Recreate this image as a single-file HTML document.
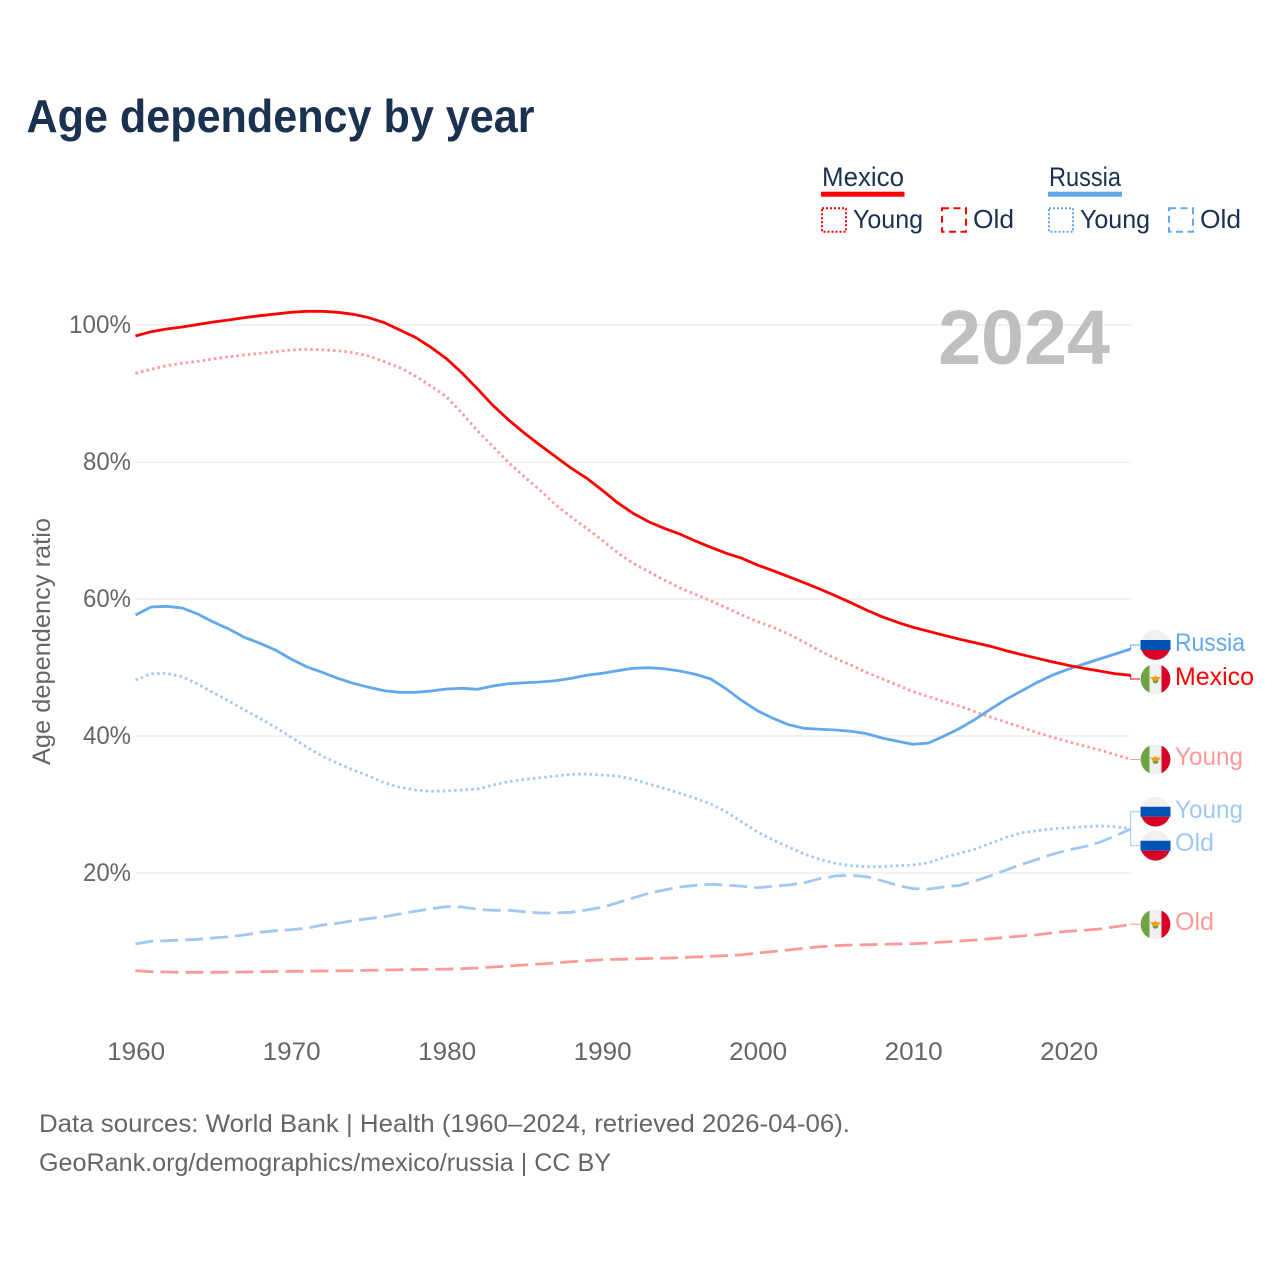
<!DOCTYPE html>
<html lang="en">
<head>
<meta charset="utf-8">
<title>Age dependency by year</title>
<style>
html,body{margin:0;padding:0;background:#fff;}
svg{display:block;font-family:"Liberation Sans",sans-serif;}
</style>
</head>
<body>
<svg id="chart" xmlns="http://www.w3.org/2000/svg" width="1280" height="1280" viewBox="0 0 1280 1280">
  <rect x="0" y="0" width="1280" height="1280" fill="#fff"/>
  <text x="26.5" y="132" font-size="46" font-weight="700" fill="#1a3150" textLength="508" lengthAdjust="spacingAndGlyphs">Age dependency by year</text>

  <g>
    <text x="822" y="186" font-size="27" fill="#1a3150" textLength="82" lengthAdjust="spacingAndGlyphs">Mexico</text>
    <rect x="821" y="191.7" width="83.5" height="5" fill="#ff0000"/>
    <rect x="822" y="208.3" width="24" height="23.5" fill="none" stroke="#ff0000" stroke-width="2" stroke-dasharray="2 2"/>
    <text x="853" y="228" font-size="26" fill="#1a3150" textLength="70" lengthAdjust="spacingAndGlyphs">Young</text>
    <rect x="942" y="208.3" width="24" height="23.5" fill="none" stroke="#ff0000" stroke-width="2" stroke-dasharray="7 4.5"/>
    <text x="973" y="228" font-size="26" fill="#1a3150" textLength="41" lengthAdjust="spacingAndGlyphs">Old</text>

    <text x="1049" y="186" font-size="27" fill="#1a3150" textLength="72" lengthAdjust="spacingAndGlyphs">Russia</text>
    <rect x="1048" y="191.7" width="74" height="5" fill="#62a8ed"/>
    <rect x="1049" y="208.3" width="24" height="23.5" fill="none" stroke="#62a8ed" stroke-width="2" stroke-dasharray="2 2"/>
    <text x="1080" y="228" font-size="26" fill="#1a3150" textLength="70" lengthAdjust="spacingAndGlyphs">Young</text>
    <rect x="1169" y="208.3" width="24" height="23.5" fill="none" stroke="#62a8ed" stroke-width="2" stroke-dasharray="7 4.5"/>
    <text x="1200" y="228" font-size="26" fill="#1a3150" textLength="41" lengthAdjust="spacingAndGlyphs">Old</text>
  </g>

  <g id="grid"></g>
  <g id="yticks"></g>
  <g id="xticks"></g>
  <text transform="translate(50,641.5) rotate(-90)" text-anchor="middle" font-size="25" fill="#666" textLength="247" lengthAdjust="spacingAndGlyphs">Age dependency ratio</text>
  <text x="938" y="364" font-size="77" font-weight="700" fill="#bfbfbf" textLength="172" lengthAdjust="spacingAndGlyphs">2024</text>

  <g id="series"></g>
  <g id="leaders"></g>

  <g>
    <g transform="translate(1155.5,645)">
      <circle r="15" fill="#f0f0f0"/>
      <path d="M-15,-5H15V5H-15Z" fill="#0052b4"/>
      <path d="M-14.1,5H14.1A15,15 0 0 1 -14.1,5Z" fill="#d80027"/>
    </g>
    <text x="1175" y="651" font-size="25" fill="#62a8ed" textLength="70" lengthAdjust="spacingAndGlyphs">Russia</text>

    <g transform="translate(1155.5,679)">
      <circle r="15" fill="#f0f0f0"/>
      <path d="M-6,-13.7A15,15 0 0 0 -6,13.7Z" fill="#6da544"/>
      <path d="M6,-13.7A15,15 0 0 1 6,13.7Z" fill="#d80027"/>
      <path d="M-5.5,-2H-1.5L0,-3.5L1.5,-2H5.5L2.5,1.5H-2.5Z" fill="#ff9811"/>
      <path d="M-3,1.5H3A3,3 0 0 1 -3,1.5Z" fill="#6da544"/>
    </g>
    <text x="1175" y="685" font-size="25" fill="#ff0000" textLength="79" lengthAdjust="spacingAndGlyphs">Mexico</text>

    <g transform="translate(1155.5,759.5)">
      <circle r="15" fill="#f0f0f0"/>
      <path d="M-6,-13.7A15,15 0 0 0 -6,13.7Z" fill="#6da544"/>
      <path d="M6,-13.7A15,15 0 0 1 6,13.7Z" fill="#d80027"/>
      <path d="M-5.5,-2H-1.5L0,-3.5L1.5,-2H5.5L2.5,1.5H-2.5Z" fill="#ff9811"/>
      <path d="M-3,1.5H3A3,3 0 0 1 -3,1.5Z" fill="#6da544"/>
    </g>
    <text x="1175" y="765" font-size="25" fill="#ff9999" textLength="68" lengthAdjust="spacingAndGlyphs">Young</text>

    <g transform="translate(1155.5,811.7)">
      <circle r="15" fill="#f0f0f0"/>
      <path d="M-15,-5H15V5H-15Z" fill="#0052b4"/>
      <path d="M-14.1,5H14.1A15,15 0 0 1 -14.1,5Z" fill="#d80027"/>
    </g>
    <text x="1175" y="818" font-size="25" fill="#a0c8f2" textLength="68" lengthAdjust="spacingAndGlyphs">Young</text>

    <g transform="translate(1155.5,845.7)">
      <circle r="15" fill="#f0f0f0"/>
      <path d="M-15,-5H15V5H-15Z" fill="#0052b4"/>
      <path d="M-14.1,5H14.1A15,15 0 0 1 -14.1,5Z" fill="#d80027"/>
    </g>
    <text x="1175" y="851" font-size="25" fill="#a0c8f2" textLength="39" lengthAdjust="spacingAndGlyphs">Old</text>

    <g transform="translate(1155.5,924.3)">
      <circle r="15" fill="#f0f0f0"/>
      <path d="M-6,-13.7A15,15 0 0 0 -6,13.7Z" fill="#6da544"/>
      <path d="M6,-13.7A15,15 0 0 1 6,13.7Z" fill="#d80027"/>
      <path d="M-5.5,-2H-1.5L0,-3.5L1.5,-2H5.5L2.5,1.5H-2.5Z" fill="#ff9811"/>
      <path d="M-3,1.5H3A3,3 0 0 1 -3,1.5Z" fill="#6da544"/>
    </g>
    <text x="1175" y="930" font-size="25" fill="#ff9999" textLength="39" lengthAdjust="spacingAndGlyphs">Old</text>
  </g>

  <text x="39" y="1132" font-size="25" fill="#666" textLength="811" lengthAdjust="spacingAndGlyphs">Data sources: World Bank | Health (1960–2024, retrieved 2026-04-06).</text>
  <text x="39" y="1171" font-size="25" fill="#666" textLength="572" lengthAdjust="spacingAndGlyphs">GeoRank.org/demographics/mexico/russia | CC BY</text>
</svg>

<script>
const firstYear = 1960;
const xTickYears = [1960, 1970, 1980, 1990, 2000, 2010, 2020];
const yTickValues = [20, 40, 60, 80, 100];

const mexicoTotal = [98.39,99.02,99.42,99.71,100.07,100.44,100.73,101.07,101.36,101.61,
  101.85,102.00,102.00,101.85,101.56,101.07,100.34,99.27,98.20,96.74,
  95.08,92.99,90.66,88.22,86.13,84.23,82.48,80.80,79.12,77.66,
  75.91,74.06,72.51,71.28,70.32,69.49,68.47,67.55,66.67,65.94,
  64.96,64.13,63.26,62.38,61.46,60.48,59.46,58.39,57.42,56.60,
  55.87,55.28,54.70,54.12,53.62,53.09,52.45,51.87,51.34,50.80,
  50.32,49.88,49.49,49.09,48.86];
const mexicoYoung = [92.95,93.53,94.06,94.41,94.70,95.04,95.37,95.62,95.87,96.10,
  96.35,96.45,96.39,96.25,95.96,95.47,94.64,93.77,92.55,91.09,
  89.53,87.11,84.53,82.23,79.90,77.85,75.91,73.77,72.01,70.32,
  68.61,66.76,65.21,63.99,62.77,61.65,60.69,59.71,58.73,57.66,
  56.69,55.87,54.89,53.68,52.45,51.34,50.36,49.30,48.36,47.45,
  46.47,45.74,45.01,44.38,43.55,42.73,42.00,41.27,40.48,39.81,
  39.17,38.54,37.96,37.27,36.60];
const mexicoOld = [5.74,5.59,5.55,5.50,5.50,5.50,5.52,5.55,5.59,5.62,
  5.65,5.66,5.69,5.72,5.74,5.80,5.84,5.88,5.91,5.94,
  5.96,6.03,6.13,6.28,6.42,6.57,6.72,6.86,7.05,7.20,
  7.34,7.40,7.45,7.52,7.56,7.64,7.74,7.84,7.93,8.07,
  8.32,8.54,8.76,9.01,9.23,9.39,9.49,9.53,9.59,9.64,
  9.68,9.78,9.93,10.07,10.22,10.41,10.61,10.80,10.99,11.28,
  11.49,11.64,11.82,12.16,12.45];
const russiaTotal = [57.66,58.83,58.93,58.69,57.81,56.64,55.62,54.41,53.53,52.55,
  51.24,50.12,49.30,48.42,47.69,47.11,46.61,46.38,46.38,46.57,
  46.86,46.96,46.82,47.30,47.64,47.78,47.88,48.07,48.42,48.86,
  49.15,49.53,49.88,49.97,49.82,49.49,49.01,48.32,46.86,45.15,
  43.69,42.58,41.65,41.12,40.98,40.88,40.69,40.34,39.71,39.23,
  38.79,38.98,40.00,41.12,42.44,43.94,45.36,46.61,47.84,48.91,
  49.78,50.51,51.24,51.97,52.70];
const russiaYoung = [48.18,49.09,49.15,48.66,47.59,46.32,45.11,43.80,42.58,41.27,
  39.85,38.39,37.08,36.01,35.04,34.16,33.18,32.51,32.12,31.93,
  31.97,32.12,32.26,32.85,33.33,33.68,33.91,34.16,34.41,34.45,
  34.31,34.16,33.68,33.00,32.36,31.64,30.91,30.07,28.91,27.45,
  25.99,24.82,23.80,22.77,22.00,21.42,21.07,20.92,20.92,21.07,
  21.17,21.50,22.29,22.88,23.50,24.34,25.21,25.88,26.18,26.47,
  26.61,26.76,26.86,26.76,26.47];
const russiaOld = [9.64,10.03,10.12,10.22,10.32,10.51,10.70,10.95,11.34,11.58,
  11.72,11.93,12.41,12.66,13.04,13.33,13.62,14.01,14.41,14.79,
  15.08,15.04,14.70,14.55,14.55,14.35,14.16,14.16,14.26,14.60,
  14.99,15.66,16.35,17.04,17.52,17.96,18.20,18.35,18.25,18.06,
  17.85,18.06,18.25,18.58,19.17,19.56,19.66,19.46,18.88,18.20,
  17.71,17.66,17.96,18.20,18.83,19.61,20.44,21.27,22.00,22.77,
  23.36,23.84,24.48,25.40,26.42];

const NS = 'http://www.w3.org/2000/svg';
function xScale(year) { return 135.5 + (year - 1960) * 15.55; }
function yScale(value) { return 1010 - value * 6.85; }
function make(tag, parentId, attrs) {
  const el = document.createElementNS(NS, tag);
  for (const k in attrs) el.setAttribute(k, attrs[k]);
  document.getElementById(parentId).appendChild(el);
  return el;
}
function linePath(values) {
  return values.map((v, i) => (i ? 'L' : 'M') + xScale(firstYear + i).toFixed(2) + ',' + yScale(v).toFixed(2)).join('');
}
function leaderPath(values, labelY) {
  const x = xScale(firstYear + values.length - 1);
  const y = yScale(values[values.length - 1]);
  return 'M' + x.toFixed(2) + ',' + y.toFixed(2) + 'L' + x.toFixed(2) + ',' + labelY + 'L1140,' + labelY;
}

yTickValues.forEach(function (t) {
  const line = make('line', 'grid', {x1: 135.5, x2: xScale(2024), y1: yScale(t), y2: yScale(t), stroke: '#eeeeee', 'stroke-width': 1.5});
  
  
  const label = make('text', 'yticks', {x: 131, y: yScale(t) + 8, 'text-anchor': 'end', 'font-size': 25, fill: '#666', textLength: t === 100 ? 62 : 48, lengthAdjust: 'spacingAndGlyphs'});
  
  
  label.textContent = t + '%';
});
xTickYears.forEach(function (yr) {
  const label = make('text', 'xticks', {x: xScale(yr) + 0.7, y: 1060, 'text-anchor': 'middle', 'font-size': 25, fill: '#666', textLength: 58, lengthAdjust: 'spacingAndGlyphs'});
  
  
  label.textContent = yr;
});

const oldPink = make('path', 'series', {d: linePath(mexicoOld), fill: 'none', stroke: '#ff9999', 'stroke-width': 2.8, 'stroke-dasharray': '18 7'});


const oldBlue = make('path', 'series', {d: linePath(russiaOld), fill: 'none', stroke: '#a0c8f2', 'stroke-width': 2.8, 'stroke-dasharray': '18 7'});


const youngBlue = make('path', 'series', {d: linePath(russiaYoung), fill: 'none', stroke: '#a0c8f2', 'stroke-width': 2.8, 'stroke-dasharray': '2.5 3.2'});


const youngPink = make('path', 'series', {d: linePath(mexicoYoung), fill: 'none', stroke: '#ff9999', 'stroke-width': 2.8, 'stroke-dasharray': '2.5 3.2'});


const totalBlue = make('path', 'series', {d: linePath(russiaTotal), fill: 'none', stroke: '#62a8ed', 'stroke-width': 2.8});


const totalRed = make('path', 'series', {d: linePath(mexicoTotal), fill: 'none', stroke: '#ff0000', 'stroke-width': 2.8});



const leadRussia = make('path', 'leaders', {d: leaderPath(russiaTotal, 645), fill: 'none', stroke: '#62a8ed', 'stroke-width': 1});


const leadMexico = make('path', 'leaders', {d: leaderPath(mexicoTotal, 679), fill: 'none', stroke: '#ff0000', 'stroke-width': 1});


const leadMexYoung = make('path', 'leaders', {d: leaderPath(mexicoYoung, 759.5), fill: 'none', stroke: '#ff9999', 'stroke-width': 1});


const leadRusYoung = make('path', 'leaders', {d: leaderPath(russiaYoung, 811.7), fill: 'none', stroke: '#a0c8f2', 'stroke-width': 1});


const leadRusOld = make('path', 'leaders', {d: leaderPath(russiaOld, 845.7), fill: 'none', stroke: '#a0c8f2', 'stroke-width': 1});


const leadMexOld = make('path', 'leaders', {d: leaderPath(mexicoOld, 924.3), fill: 'none', stroke: '#ff9999', 'stroke-width': 1});


</script>
</body>
</html>
